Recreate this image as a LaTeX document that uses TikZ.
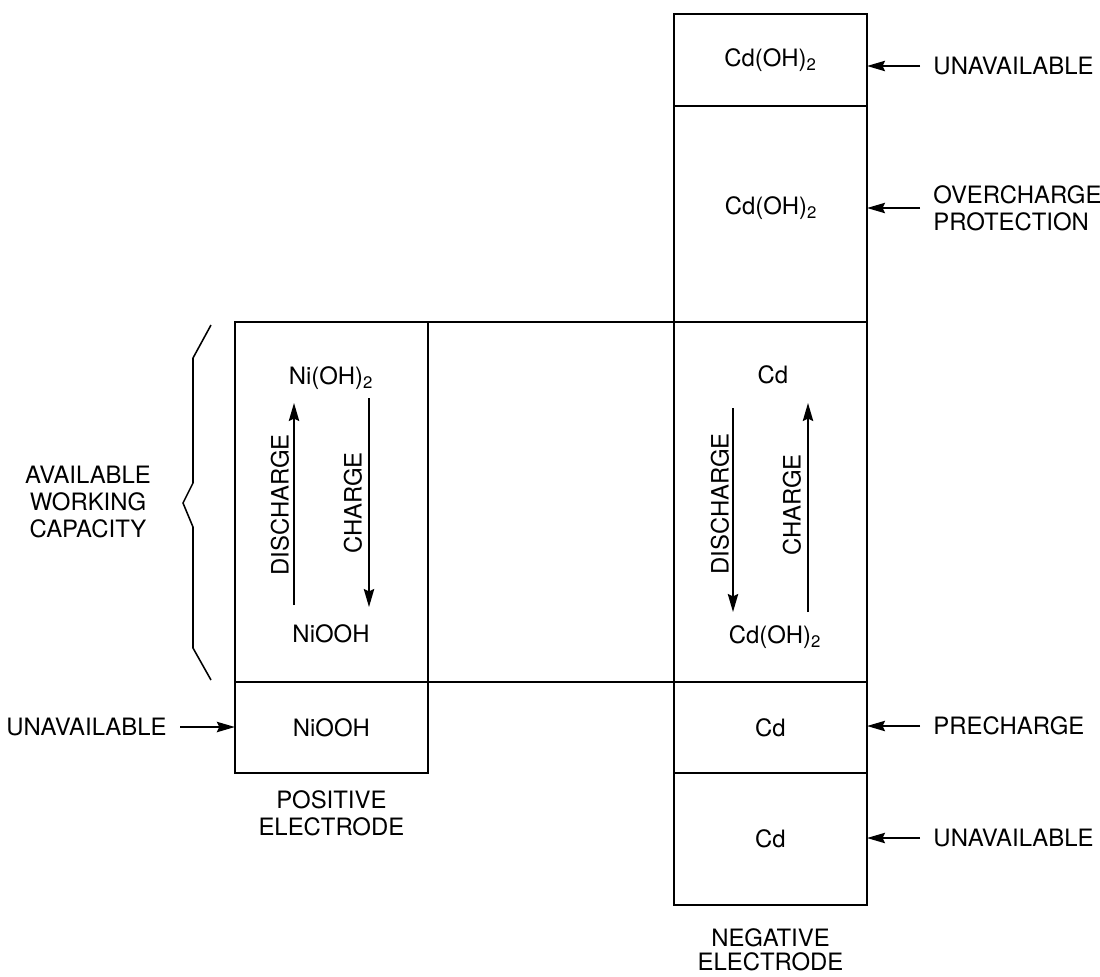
\documentclass[tikz,border=0pt]{standalone}
\usepackage{fontspec}
\setmainfont{TeX Gyre Heros}
\usetikzlibrary{arrows.meta, positioning}

\begin{document}
\begin{tikzpicture}[
  x=0.025cm, y=-0.025cm,
  node distance=0pt,
  cell/.style={rectangle, draw, line width=1.3pt, outer sep=0pt, inner sep=0pt,
               minimum width=4.825cm, font=\fontsize{17}{20}\selectfont},
  spec/.style={font=\fontsize{17}{20}\selectfont},
  tag/.style={font=\fontsize{17}{19.5}\selectfont, align=left,
              inner xsep=0.33cm, inner ysep=0pt},
  rot/.style={font=\fontsize{17}{20}\selectfont, rotate=90, inner sep=0pt},
  arr/.style={-{Stealth[length=4.5mm, width=2.6mm, inset=0.6mm]}, line width=1.1pt}
]
\useasboundingbox (0,0) rectangle (1100,976);

% Negative electrode column
\node[cell, minimum height=2.3cm, anchor=north] (negtop) at (770.5,14) {Cd(OH)\textsubscript{2}};
\node[cell, minimum height=5.4cm, below=of negtop] (negover) {};
\node[cell, minimum height=9cm, below=of negover] (negwork) {};
\node[cell, minimum height=2.275cm, below=of negwork] (negpre) {Cd};
\node[cell, minimum height=3.3cm, below=of negpre] (negbot) {Cd};
\node[spec] (over) at (771,208) {Cd(OH)\textsubscript{2}};

% Positive electrode column
\node[cell, minimum height=9cm, left=6.15cm of negwork] (poswork) {};
\node[cell, minimum height=2.275cm, below=of poswork] (posbot) {NiOOH};

% Lines across the gap
\draw[line width=1.3pt] (poswork.north east) -- (negwork.north west);
\draw[line width=1.3pt] (poswork.south east) -- (negwork.south west);

% Working species
\node[spec] (niA) at (331,378) {Ni(OH)\textsubscript{2}};
\node[spec] (niB) at (331,634) {NiOOH};
\node[spec] (cdA) at (773,375) {Cd};
\node[spec] (cdB) at (775,637) {Cd(OH)\textsubscript{2}};

% Reaction arrows
\coordinate (pd0) at (294,605); \coordinate (pd1) at (294,403);
\coordinate (pc0) at (369,398); \coordinate (pc1) at (369,607);
\coordinate (nd0) at (733,408); \coordinate (nd1) at (733,612);
\coordinate (nc0) at (808,612); \coordinate (nc1) at (808,403);
\draw[arr] (pd0) -- (pd1);
\draw[arr] (pc0) -- (pc1);
\draw[arr] (nd0) -- (nd1);
\draw[arr] (nc0) -- (nc1);

\node[rot] (pdis) at (280,505) {DISCHARGE};
\node[rot] (pchg) at (353,503) {CHARGE};
\node[rot] (ndis) at (720,504) {DISCHARGE};
\node[rot] (nchg) at (792,505) {CHARGE};

% Side tags
\node[tag, anchor=west] (tagA) at (920,66) {UNAVAILABLE};
\node[tag, anchor=west] (tagB) at (920,208) {OVERCHARGE\\PROTECTION};
\node[tag, anchor=west] (tagC) at (920,726) {PRECHARGE};
\node[tag, anchor=west] (tagD) at (920,838) {UNAVAILABLE};
\node[tag, anchor=east] (tagE) at (180,727) {UNAVAILABLE};

\draw[arr] (tagA.west) -- (tagA.west -| negtop.east);
\draw[arr] (tagB.west) -- (tagB.west -| negover.east);
\draw[arr] (tagC.west) -- (tagC.west -| negpre.east);
\draw[arr] (tagD.west) -- (tagD.west -| negbot.east);
\draw[arr] (tagE.east) -- (tagE.east -| posbot.west);

% Brace
\draw[line width=1.1pt] (211,325) -- (193,358) -- (193,483) -- (183,503)
  -- (193,527) -- (193,648) -- (211,680);
\node[align=center, font=\fontsize{17}{19.5}\selectfont] (avail) at (88,502)
  {AVAILABLE\\WORKING\\CAPACITY};

% Electrode names
\node[align=center, font=\fontsize{17}{19.5}\selectfont, below=0.3cm of posbot] (posname)
  {POSITIVE\\ELECTRODE};
\node[align=center, font=\fontsize{17}{17.5}\selectfont, below=0.45cm of negbot] (negname)
  {NEGATIVE\\ELECTRODE};

\end{tikzpicture}
\end{document}
